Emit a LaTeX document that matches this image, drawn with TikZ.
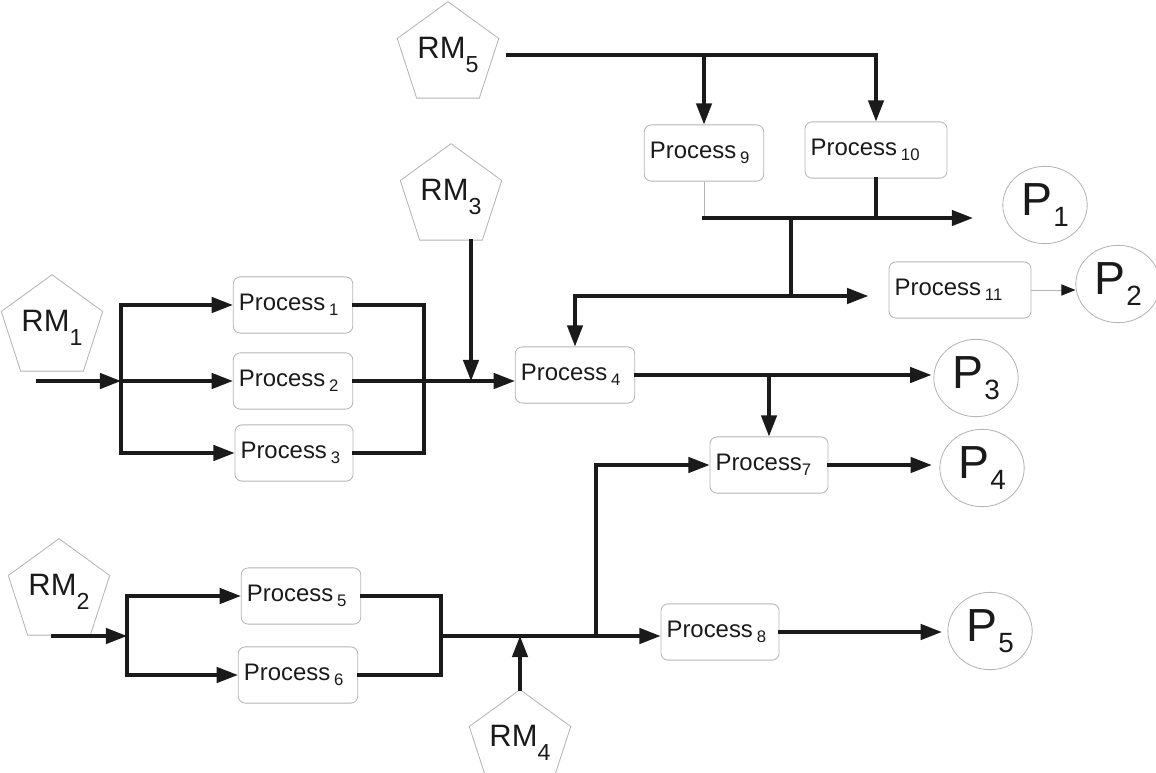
\documentclass[tikz,border=0pt]{standalone}
\usepackage{fontspec}
\setmainfont{Liberation Sans}
\usepackage{graphicx}
\usepackage{xcolor}
\usepackage{tikz}
\usetikzlibrary{positioning,arrows.meta,calc,shapes.geometric}
\definecolor{ink}{HTML}{1A1A1A}
\definecolor{rim}{HTML}{B4B4B4}
\newcommand{\lowsub}[3]{\raisebox{-#1}{\scalebox{#2}{#3}}}

\begin{document}
\begin{tikzpicture}[
    x=0.025cm, y=-0.025cm,
    raw/.style={regular polygon, regular polygon sides=5, draw=rim, line width=0.6pt, minimum size=65pt, inner sep=0pt, text=ink, font=\fontsize{22pt}{24pt}\selectfont},
    proc/.style={draw=rim, line width=0.6pt, rounded corners=5pt, text width=#1, align=left, inner xsep=4pt, minimum height=40pt, text=ink, font=\fontsize{17pt}{19pt}\selectfont},
    proc/.default=77pt,
    prod/.style={ellipse, draw=rim, line width=0.6pt, minimum width=60pt, minimum height=55pt, inner sep=0pt, text=ink, font=\fontsize{33pt}{35pt}\selectfont},
    wire/.style={line width=2.2pt, draw=ink, line cap=rect},
    arr/.style={wire, -{Triangle[length=15pt, width=11pt]}},
    thinwire/.style={line width=0.7pt, draw=rim},
    thinarr/.style={thinwire, -{Triangle[length=10pt, width=8pt, color=ink]}}
]
    \useasboundingbox (0,0) rectangle (1156,773);

    % Raw materials
    \node[raw] (rm1) at (52,328) {RM\lowsub{0.45em}{0.75}{1}};
    \node[raw] (rm2) at (59,592) {RM\lowsub{0.45em}{0.75}{2}};
    \node[raw] (rm3) at (451,197) {RM\lowsub{0.45em}{0.75}{3}};
    \node[raw] (rm4) at (520,743) {RM\lowsub{0.45em}{0.75}{4}};
    \node[raw] (rm5) at (448,55) {RM\lowsub{0.45em}{0.75}{5}};

    % Processes
    \node[proc] (p1) at (293,305) {Process\,\lowsub{0.2em}{0.7}{1}};
    \node[proc] (p2) at (293,381) {Process\,\lowsub{0.2em}{0.7}{2}};
    \node[proc=76pt] (p3) at (294,453) {Process\,\lowsub{0.2em}{0.7}{3}};
    \node[proc] (p4) at (575,375) {Process\,\lowsub{0.2em}{0.7}{4}};
    \node[proc] (p5) at (301,596) {Process\,\lowsub{0.2em}{0.7}{5}};
    \node[proc] (p6) at (298,675) {Process\,\lowsub{0.2em}{0.7}{6}};
    \node[proc=76pt] (p7) at (769,465) {Process\lowsub{0.2em}{0.7}{7}};
    \node[proc=76pt] (p8) at (720,632) {Process\,\lowsub{0.2em}{0.7}{8}};
    \node[proc] (p9) at (704,153) {Process\,\lowsub{0.2em}{0.7}{9}};
    \node[proc=93pt] (p10) at (876,150) {Process\,\lowsub{0.2em}{0.7}{10}};
    \node[proc=93pt] (p11) at (960,290) {Process\,\lowsub{0.2em}{0.7}{11}};

    % Products
    \node[prod] (prod1) at (1045,205) {P\kern0.03em\lowsub{0.25em}{0.6}{1}};
    \node[prod] (prod2) at (1118,284) {P\kern0.03em\lowsub{0.25em}{0.6}{2}};
    \node[prod] (prod3) at (976,378) {P\kern0.03em\lowsub{0.25em}{0.6}{3}};
    \node[prod] (prod4) at (982,468) {P\kern0.03em\lowsub{0.25em}{0.6}{4}};
    \node[prod] (prod5) at (990,631) {P\kern0.03em\lowsub{0.25em}{0.6}{5}};

    \coordinate (in1) at (38,381);
    \coordinate (fork1) at (121,381);
    \coordinate (join1) at (424,381);
    \coordinate (mix1) at (471,381);
    \coordinate (in2) at (53,636);
    \coordinate (fork2) at (127,636);
    \coordinate (join2) at (441,636);
    \coordinate (fork3) at (596,636);
    \coordinate (merge) at (704,218);
    \coordinate (split) at (791,296);

    % Upper line
    \draw[arr] (in1) -- (fork1); \draw[wire] (fork1 |- p1.west) -- (fork1 |- p3.west);
    \draw[arr] (fork1 |- p1.west) -- (p1.west); \draw[arr] (fork1) -- (p2.west); \draw[arr] (fork1 |- p3.west) -- (p3.west);
    \draw[wire] (p1.east) -| (join1 |- p3.east) -- (p3.east);
    \draw[arr] (p2.east) -- (p2.east -| p4.west); \draw[arr] (rm3.south -| mix1) -- (mix1);
    \draw[arr, shorten >=1.5pt] (p4.east) -- (p4.east -| prod3.west); \draw[arr] (p7.north |- p4.east) -- (p7.north);
    \draw[arr, shorten >=5.5pt] (p7.east) -- (p7.east -| prod4.west);

    % Lower line
    \draw[arr] (in2) -- (fork2); \draw[wire] (fork2 |- p5.west) -- (fork2 |- p6.west);
    \draw[arr] (fork2 |- p5.west) -- (p5.west); \draw[arr] (fork2 |- p6.west) -- (p6.west);
    \draw[wire] (p5.east) -| (join2 |- p6.east) -- (p6.east);
    \draw[arr] (join2) -- (join2 -| p8.west); \draw[arr] (rm4.north) -- (rm4.north |- join2);
    \draw[arr] (fork3) |- (p7.west);
    \draw[arr, shorten >=4pt] (p8.east) -- (p8.east -| prod5.west);

    % Top line
    \draw[arr] ([xshift=10pt]rm5.east) -| (p10.north); \draw[arr] (p9.north |- rm5.east) -- (p9.north);
    \draw[thinwire] (p9.south) -- (merge); \draw[wire] (p10.south) -- (p10.south |- merge);
    \draw[arr, shorten >=21pt] (merge) -- (merge -| prod1.west);
    \draw[wire] (split |- merge) -- (split);
    \draw[arr, shorten >=14.5pt] (split) -- (split -| p11.west); \draw[arr] (split) -| (p4.north);
    \draw[thinarr] (p11.east) -- (p11.east -| prod2.west);
\end{tikzpicture}
\end{document}
